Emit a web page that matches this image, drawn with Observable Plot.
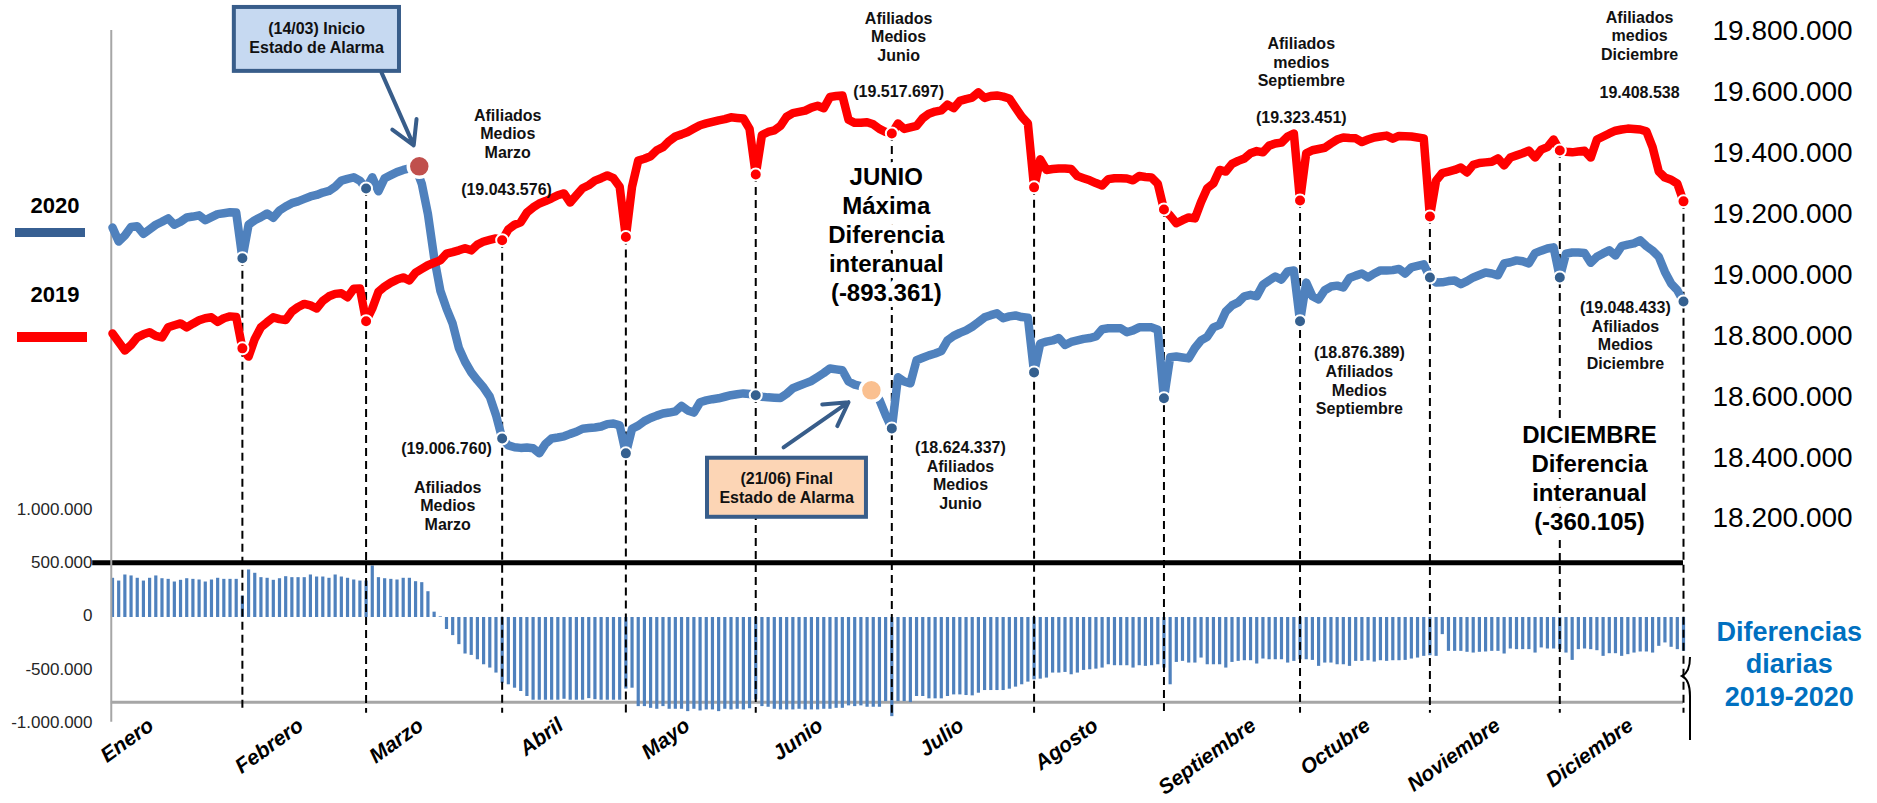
<!DOCTYPE html>
<html><head><meta charset="utf-8">
<script src="https://cdn.jsdelivr.net/npm/d3@7"></script>
<script src="https://cdn.jsdelivr.net/npm/@observablehq/plot@0.6"></script>
<style>
body{margin:0;background:#fff;}
#wrap{position:relative;width:1877px;height:803px;overflow:hidden;font-family:"Liberation Sans",Arial,sans-serif;background:#fff;}
#wrap svg{position:absolute;left:0;top:0;}
.leg{position:absolute;left:0;width:110px;text-align:center;font-weight:bold;font-size:22px;line-height:24px;color:#000;}
</style></head>
<body><div id="wrap"></div>
<script>
// ---------- DATA (miles de afiliados, días hábiles) ----------
const months = ["Enero","Febrero","Marzo","Abril","Mayo","Junio","Julio","Agosto","Septiembre","Octubre","Noviembre","Diciembre"];
const monthDays = [22,20,22,20,21,22,23,21,22,21,21,20];

const afil2019 = [
18808,18780,18752,18770,18795,18805,18812,18800,18795,18828,18835,18841,18828,18840,18851,18858,18861,18846,18858,18864,18862,18759,
18732,18790,18828,18845,18861,18855,18852,18880,18895,18905,18900,18890,18915,18930,18938,18940,18927,18955,18956,18848,
18890,18945,18962,18975,18985,18992,18982,19008,19020,19032,19040,19048,19070,19075,19081,19088,19081,19100,19110,19115,19120,19114,
19150,19165,19173,19205,19222,19235,19243,19252,19262,19268,19238,19262,19285,19295,19310,19318,19327,19318,19290,19125,
19290,19376,19382,19390,19410,19420,19440,19455,19462,19470,19481,19492,19498,19503,19508,19512,19518,19516,19514,19480,19330,
19460,19470,19475,19490,19520,19532,19536,19540,19550,19556,19548,19585,19588,19590,19510,19500,19500,19502,19495,19480,19470,19465,
19498,19480,19485,19490,19515,19530,19537,19541,19560,19548,19572,19578,19583,19600,19582,19588,19590,19586,19580,19550,19520,19498,19288,
19380,19345,19348,19350,19350,19348,19325,19318,19311,19302,19294,19315,19318,19318,19317,19311,19325,19322,19320,19300,19215,
19195,19170,19180,19189,19186,19240,19285,19301,19345,19340,19365,19375,19383,19400,19407,19403,19425,19432,19435,19455,19465,19245,
19400,19410,19414,19418,19432,19445,19452,19450,19449,19437,19445,19452,19455,19458,19448,19457,19456,19455,19452,19449,19192,
19310,19335,19340,19345,19353,19337,19362,19368,19370,19372,19383,19360,19386,19393,19400,19409,19386,19412,19420,19445,19409,
19405,19403,19406,19408,19386,19445,19455,19465,19474,19478,19481,19480,19478,19472,19420,19340,19320,19313,19300,19242
];

const afil2020 = [
19156,19110,19130,19158,19160,19135,19150,19165,19175,19186,19165,19175,19189,19192,19196,19180,19190,19200,19203,19206,19205,19055,
19165,19180,19190,19202,19188,19212,19225,19236,19242,19250,19258,19263,19271,19276,19290,19310,19316,19321,19310,19284,
19321,19275,19318,19328,19338,19345,19350,19355,19300,19200,19058,18949,18890,18840,18760,18715,18680,18654,18630,18600,18540,18463,
18440,18434,18432,18433,18431,18414,18445,18463,18466,18470,18478,18485,18495,18497,18499,18502,18510,18512,18506,18414,
18495,18505,18520,18530,18538,18545,18548,18552,18570,18555,18548,18582,18588,18592,18595,18600,18605,18608,18611,18609,18605,
18600,18598,18597,18596,18610,18628,18636,18644,18652,18665,18678,18693,18690,18687,18650,18640,18635,18628,18620,18590,18540,18496,
18664,18650,18644,18720,18728,18736,18742,18750,18785,18800,18810,18818,18830,18845,18861,18868,18874,18858,18864,18867,18862,18860,18680,
18775,18781,18785,18793,18770,18780,18785,18790,18793,18798,18822,18825,18825,18825,18812,18818,18828,18828,18828,18820,18595,
18730,18732,18729,18726,18760,18785,18797,18828,18836,18880,18900,18910,18930,18935,18930,18968,18982,18995,18985,19012,19015,18848,
18975,18930,18920,18950,18962,18965,18959,18990,18998,19005,18992,19005,19015,19015,19016,19020,19005,19025,19030,19035,18992,
18975,18976,18980,18982,18970,18980,18992,19000,19008,19005,18999,19038,19042,19048,19045,19038,19072,19080,19087,19091,18992,
19070,19074,19074,19072,19040,19060,19071,19081,19064,19095,19100,19104,19114,19095,19080,19060,19010,18972,18950,18913
];

const difDiaria = [
340,314,371,362,340,314,340,362,336,330,305,321,336,330,324,305,324,340,330,330,330,173,
418,387,346,340,321,336,355,346,346,346,371,352,352,340,371,352,340,324,314,314,
456,346,336,330,324,340,340,308,299,214,22,-22,-141,-198,-283,-371,-384,-425,-472,-503,-550,-645,
-660,-692,-723,-770,-805,-805,-805,-805,-805,-796,-805,-805,-805,-790,-800,-805,-805,-805,-805,-700,
-692,-865,-865,-881,-890,-865,-890,-890,-890,-912,-890,-906,-896,-896,-912,-890,-896,-890,-896,-885,-802,
-865,-871,-890,-896,-896,-896,-890,-896,-896,-896,-890,-890,-881,-881,-858,-865,-858,-871,-871,-871,-818,-959,
-818,-818,-827,-770,-770,-792,-792,-792,-770,-755,-755,-761,-764,-739,-714,-714,-714,-714,-701,-682,-660,-635,-613,
-607,-597,-550,-550,-544,-566,-550,-525,-519,-513,-503,-472,-481,-481,-481,-503,-481,-487,-481,-472,-503,
-660,-450,-440,-456,-456,-409,-472,-472,-472,-503,-450,-440,-434,-434,-465,-418,-425,-425,-425,-456,-440,-425,
-425,-431,-487,-456,-456,-472,-472,-487,-440,-440,-434,-447,-434,-440,-434,-434,-431,-418,-409,-393,-387,
-393,-189,-346,-346,-346,-355,-362,-355,-352,-346,-346,-371,-324,-330,-330,-330,-362,-314,-324,-324,-330,
-362,-431,-330,-324,-330,-340,-393,-368,-368,-393,-377,-362,-352,-352,-362,-299,-267,-308,-330,-346
];

const rightTicks = [18200000,18400000,18600000,18800000,19000000,19200000,19400000,19600000,19800000];
const leftTicks = [-1000000,-500000,0,500000,1000000];

// eventos (índice de día hábil, afiliados)
const eventos = [
  {i: 49.6, v: 19357000, color: "#c0504d"},
  {i: 122.7, v: 18621000, color: "#fac090"}
];

// ---------- ANNOTATION LAYOUT (data units) ----------
const monthLabelShift = [-3.2, 0, -1.6, 0, 0, 0, 0.3, 0, 4, 1, 1, 2];
const notasPeq = [
 {x: 63.9, y: 19465000, t: "Afiliados\nMedios\nMarzo"},
 {x: 63.7, y: 19281000, t: "(19.043.576)"},
 {x: 54.0, y: 18431000, t: "(19.006.760)"},
 {x: 54.2, y: 18243000, t: "Afiliados\nMedios\nMarzo"},
 {x: 127.1, y: 19784000, t: "Afiliados\nMedios\nJunio"},
 {x: 127.1, y: 19603000, t: "(19.517.697)"},
 {x: 137.1, y: 18342000, t: "(18.624.337)\nAfiliados\nMedios\nJunio"},
 {x: 192.2, y: 19701000, t: "Afiliados\nmedios\nSeptiembre"},
 {x: 192.2, y: 19518000, t: "(19.323.451)"},
 {x: 201.6, y: 18654000, t: "(18.876.389)\nAfiliados\nMedios\nSeptiembre"},
 {x: 246.9, y: 19787000, t: "Afiliados\nmedios\nDiciembre"},
 {x: 246.9, y: 19600000, t: "19.408.538"},
 {x: 244.6, y: 18802000, t: "(19.048.433)\nAfiliados\nMedios\nDiciembre"}
];
const notasGrandes = [
 {x: 125.1, y: 19137000, t: "JUNIO\nMáxima\nDiferencia\ninteranual\n(-893.361)"},
 {x: 238.8, y: 18335000, t: "DICIEMBRE\nDiferencia\ninteranual\n(-360.105)"}
];
const notaDif = [{x: 271.1, y: 17725000, t: "Diferencias\ndiarias\n2019-2020"}];
const cajas = [
 {x1: 19.7, x2: 46.4, y1: 19879000, y2: 19669000, fill: "#c6d9f1", tx: 33.0, ty: 19782000, t: "(14/03) Inicio\nEstado de Alarma"},
 {x1: 96.2, x2: 121.9, y1: 18398000, y2: 18204000, fill: "#fcd5b5", tx: 109.0, ty: 18301000, t: "(21/06) Final\nEstado de Alarma"}
];
const flechas = [
 {x1: 43.5, y1: 19665000, x2: 48.7, y2: 19426000},
 {x1: 108.5, y1: 18434000, x2: 119.0, y2: 18582000}
];

// ---------- BUILD ----------
const fmt = d3.formatLocale({decimal: ",", thousands: ".", grouping: [3], currency: ["", ""], minus: "-"}).format(",");
const rows = afil2019.map((v, i) => ({i, a19: v * 1000, a20: afil2020[i] * 1000, dif: difDiaria[i] * 1000}));
let acc = 0;
const monthRows = months.map((m, k) => {
  const s = acc; acc += monthDays[k];
  return {name: m, start: s, end: s + monthDays[k] - 1, mid: s + (monthDays[k] - 1) / 2, shift: monthLabelShift[k]};
});
const ends = monthRows.map(r => {
  const d = rows[r.end];
  return {i: r.end, a19: d.a19, a20: d.a20, top: Math.max(d.a19, d.a20)};
});

const FONT = "'Liberation Sans', Arial, Helvetica, sans-serif";
const X = {domain: [0, 254], range: [112, 1683], axis: null};
const DASH_BOTTOM = 17560000;
const AXIS_X = -0.2;

const chartBars = Plot.plot({
  width: 1877, height: 803,
  marginLeft: 111, marginRight: 165, marginTop: 509, marginBottom: 81,
  x: X,
  y: {domain: [-1000000, 1000000]},
  style: {background: "transparent", fontFamily: FONT, overflow: "visible"},
  marks: [
    Plot.ruleY([-811000], {x1: AXIS_X, x2: 254, stroke: "#a6a6a6", strokeWidth: 3}),
    Plot.ruleX(rows, {x: "i", y1: 0, y2: "dif", stroke: "#4f81bd", strokeWidth: 3.2, insetTop: 1.5, insetBottom: 1.5}),
    Plot.ruleY([500000], {x1: -3.2, x2: 254, stroke: "#000", strokeWidth: 5}),
    Plot.axisY({anchor: "left", ticks: leftTicks, tickSize: 0, tickPadding: 19, fontSize: 17, tickFormat: fmt, label: null, fill: "#262626"}),
    Plot.text(monthRows, {x: d => d.mid - 0.4 + d.shift, y: -1055000, text: "name", rotate: -36, textAnchor: "end", lineAnchor: "bottom",
      fontSize: 21, fontWeight: "bold", fontStyle: "italic", fill: "#000"})
  ]
});

const chartLines = Plot.plot({
  width: 1877, height: 803,
  marginLeft: 111, marginRight: 165, marginTop: 30, marginBottom: 285,
  x: X,
  y: {domain: [18200000, 19800000], range: [518, 31]},
  style: {background: "transparent", fontFamily: FONT, overflow: "visible"},
  marks: [
    Plot.ruleX([AXIS_X], {y1: 19803000, y2: 17531000, stroke: "#a6a6a6", strokeWidth: 2}),
    Plot.ruleX(ends, {x: "i", y1: "top", y2: DASH_BOTTOM, stroke: "#000", strokeWidth: 2, strokeDasharray: "8,5"}),
    Plot.line(rows, {x: "i", y: "a20", stroke: "#4f81bd", strokeWidth: 8.5}),
    Plot.line(rows, {x: "i", y: "a19", stroke: "#ff0000", strokeWidth: 8.5}),
    Plot.dot(ends, {x: "i", y: "a20", r: 6, fill: "#35608f", stroke: "#fff", strokeWidth: 2}),
    Plot.dot(ends, {x: "i", y: "a19", r: 6, fill: "#ff0000", stroke: "#fff", strokeWidth: 2}),
    Plot.dot(eventos, {x: "i", y: "v", r: 11, fill: "color", stroke: "#fff", strokeWidth: 3.5}),
    Plot.rect(cajas, {x1: "x1", x2: "x2", y1: "y1", y2: "y2", fill: "fill", stroke: "#385d8a", strokeWidth: 4}),
    Plot.text(cajas, {x: "tx", y: "ty", text: "t", fontSize: 16, fontWeight: "bold", lineHeight: 1.19, fill: "#111"}),
    Plot.arrow(flechas, {x1: "x1", y1: "y1", x2: "x2", y2: "y2", stroke: "#385d8a", strokeWidth: 4, headLength: 16}),
    Plot.text(notasPeq, {x: "x", y: "y", text: "t", fontSize: 16, fontWeight: "bold", lineHeight: 1.16, fill: "#111"}),
    Plot.text(notasGrandes, {x: "x", y: "y", text: "t", fontSize: 24, fontWeight: "bold", lineHeight: 1.21, fill: "#000",
      stroke: "#fff", strokeWidth: 12, paintOrder: "stroke"}),
    Plot.text(notaDif, {x: "x", y: "y", text: "t", fontSize: 27, fontWeight: "bold", lineHeight: 1.2, fill: "#0070c0"}),
    Plot.axisY({anchor: "right", ticks: rightTicks, tickSize: 0, tickPadding: 0, fontSize: 28, tickFormat: fmt, label: null, fill: "#000"})
  ]
});

const wrap = document.getElementById("wrap");
wrap.appendChild(chartBars);
wrap.appendChild(chartLines);
wrap.insertAdjacentHTML("beforeend", `
<div class="leg" style="top:194px">2020</div>
<div style="position:absolute;left:15px;top:228px;width:70px;height:9px;background:#375f92"></div>
<div class="leg" style="top:283px">2019</div>
<div style="position:absolute;left:17px;top:332px;width:70px;height:10px;background:#ff0000"></div>
<svg width="1877" height="803" style="position:absolute;left:0;top:0;pointer-events:none"><path d="M1690 657 Q1690 672 1682 676 Q1690 680 1690 696 L1690 740" fill="none" stroke="#000" stroke-width="2"/></svg>
`);
</script>
</body></html>
